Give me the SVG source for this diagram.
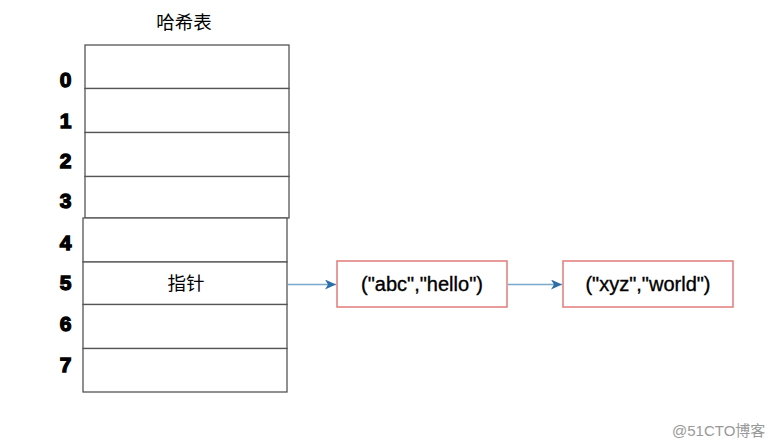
<svg xmlns="http://www.w3.org/2000/svg" width="780" height="448" viewBox="0 0 780 448">
<style>
.cell{fill:#ffffff;stroke:#555555;stroke-width:1.3}
.idx{font-family:"Liberation Sans",Arial,sans-serif;font-weight:900;font-size:21px;fill:#000;text-anchor:middle;stroke:#000;stroke-width:1.3}
.cjk{font-family:"Noto Sans CJK SC","Liberation Sans",sans-serif;font-size:18.5px;fill:#000;text-anchor:middle}
.box{fill:#ffffff;stroke:#e07b7b;stroke-width:1.5}
.lbl{font-family:"Liberation Sans",Arial,sans-serif;font-size:20px;fill:#000;text-anchor:middle;stroke:#000;stroke-width:0.35}
.conn{stroke:#7aa8cc;stroke-width:1.3;fill:none}
.wm{font-family:"Liberation Sans","Noto Sans CJK SC",sans-serif;font-size:15px;fill:#999999}
</style>
<defs>
<marker id="ah" markerWidth="12" markerHeight="10" refX="11" refY="5" orient="auto" markerUnits="userSpaceOnUse">
<path d="M0,0 L11,5 L0,10 L3,5 Z" fill="#2d6ea6"/>
</marker>
</defs>
<text class="cjk" x="184" y="29">哈希表</text>
<g id="table">
<rect class="cell" x="85" y="45" width="204" height="43.5"/>
<rect class="cell" x="85" y="88.5" width="204" height="44"/>
<rect class="cell" x="85" y="132.5" width="204" height="44"/>
<rect class="cell" x="85" y="176.5" width="204" height="41.5"/>
<rect class="cell" x="83" y="218" width="204" height="44"/>
<rect class="cell" x="83" y="262" width="204" height="42.5"/>
<rect class="cell" x="83" y="304.5" width="204" height="44"/>
<rect class="cell" x="83" y="348.5" width="204" height="43.5"/>
<text class="cjk" x="186" y="290">指针</text>
</g>
<g id="indices">
<text class="idx" x="65.5" y="87">0</text>
<text class="idx" x="65.5" y="128">1</text>
<text class="idx" x="65.5" y="168">2</text>
<text class="idx" x="65.5" y="208">3</text>
<text class="idx" x="65.5" y="250">4</text>
<text class="idx" x="65.5" y="290">5</text>
<text class="idx" x="65.5" y="331">6</text>
<text class="idx" x="65.5" y="372">7</text>
</g>
<g id="node1">
<rect class="box" x="337" y="261" width="170" height="46"/>
<text class="lbl" x="422" y="291">("abc","hello")</text>
</g>
<g id="node2">
<rect class="box" x="563" y="261" width="170" height="46"/>
<text class="lbl" x="648" y="291">("xyz","world")</text>
</g>
<g id="connectors">
<line class="conn" x1="288" y1="284.5" x2="336" y2="284.5" marker-end="url(#ah)"/>
<line class="conn" x1="508" y1="284.5" x2="562" y2="284.5" marker-end="url(#ah)"/>
</g>
<text class="wm" x="672" y="436">@51CTO博客</text>
</svg>
